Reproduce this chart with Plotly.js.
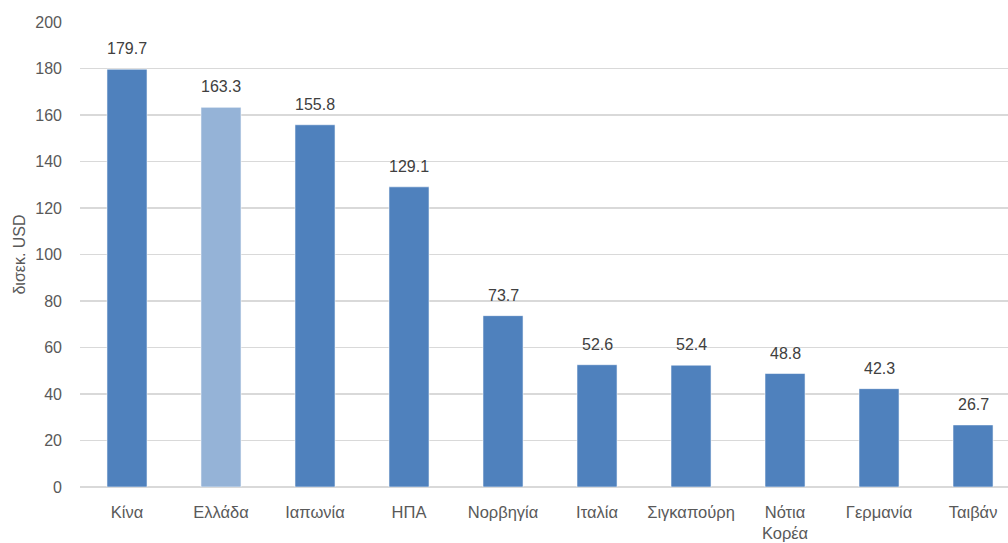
<!DOCTYPE html>
<html>
<head>
<meta charset="utf-8">
<script src="https://cdn.plot.ly/plotly-3.0.1.min.js"></script>
<style>
  html, body { margin: 0; padding: 0; background: #fff; overflow: hidden; }
  #chart { width: 1008px; height: 543px; }
</style>
</head>
<body>
<div id="chart"></div>
<script>
// Countries (x-axis categories) and values in billions USD
const countries = ['Κίνα', 'Ελλάδα', 'Ιαπωνία', 'ΗΠΑ', 'Νορβηγία', 'Ιταλία', 'Σιγκαπούρη', 'Νότια<br>Κορέα', 'Γερμανία', 'Ταιβάν'];
const values = [179.7, 163.3, 155.8, 129.1, 73.7, 52.6, 52.4, 48.8, 42.3, 26.7];
const highlighted = 'Ελλάδα';
const yTicks = [0, 20, 40, 60, 80, 100, 120, 140, 160, 180, 200];

const baseColor = '#4F81BD';
const highlightColor = '#95B3D7';
const fontFamily = '"Liberation Sans", Arial, sans-serif';

const barColors = countries.map(c => c === highlighted ? highlightColor : baseColor);

const trace = {
  type: 'bar',
  x: countries,
  y: values,
  marker: {
    color: barColors,
    line: { color: 'rgba(255,255,255,0.55)', width: 1 }
  },
  hoverinfo: 'x+y'
};

// Value labels floating above each bar
const labels = countries.map((c, i) => ({
  x: c,
  y: values[i],
  text: values[i].toFixed(1),
  showarrow: false,
  yanchor: 'bottom',
  yshift: 10,
  font: { family: fontFamily, size: 16, color: '#404040' }
}));

const layout = {
  width: 1008,
  height: 543,
  margin: { l: 80, r: 0, t: 22, b: 56 },
  paper_bgcolor: '#ffffff',
  plot_bgcolor: '#ffffff',
  showlegend: false,
  bargap: 0.574,
  font: { family: fontFamily, size: 16, color: '#595959' },
  xaxis: {
    type: 'category',
    range: [-0.5, 9.372],
    showgrid: false,
    zeroline: false,
    showline: false,
    ticks: '',
    ticklabelstandoff: 13,
    tickfont: { family: fontFamily, size: 16.5, color: '#595959' },
    fixedrange: true
  },
  yaxis: {
    range: [0, 200],
    tickvals: yTicks,
    ticktext: yTicks.map(String),
    showgrid: true,
    gridcolor: '#D9D9D9',
    gridwidth: 1.6,
    zeroline: true,
    zerolinecolor: '#D9D9D9',
    zerolinewidth: 1.6,
    showline: false,
    ticks: '',
    ticklabelstandoff: 17,
    tickfont: { family: fontFamily, size: 16, color: '#595959' },
    title: {
      text: 'δισεκ. USD',
      standoff: 5,
      font: { family: fontFamily, size: 16, color: '#595959' }
    },
    fixedrange: true
  },
  annotations: labels
};

Plotly.newPlot('chart', [trace], layout, { displayModeBar: false, staticPlot: true });
</script>
</body>
</html>
